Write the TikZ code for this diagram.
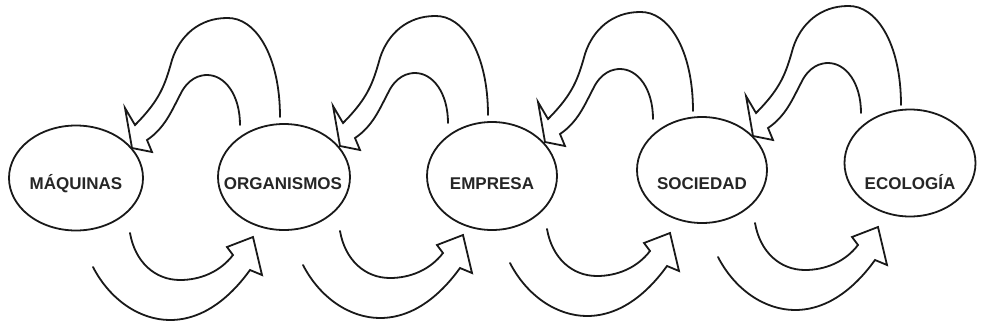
\documentclass[tikz,border=0pt]{standalone}
\usepackage{fontspec}
\setmainfont{Liberation Sans}
\usetikzlibrary{shapes.geometric}
\tikzset{
  ring/.style={draw=black!90, ellipse, line width=1.8pt, inner sep=0pt},
  lbl/.style={font=\fontsize{17}{19}\selectfont\bfseries, anchor=base, inner sep=0pt, text=black!85},
  band/.style={draw=black!90, line width=1.8pt, line join=miter, line cap=round},
  upband/.pic={
    \draw[band] (280,117) .. controls (280,55) and (255,17) .. (227,18)
      .. controls (200,18) and (180,35) .. (172,60)
      .. controls (165,85) and (160,100) .. (135,125)
      -- (125,108) -- (132,148) -- (152,152) -- (147,140)
      .. controls (165,128) and (172,110) .. (180,95)
      .. controls (188,78) and (200,75) .. (207,75)
      .. controls (225,75) and (240,95) .. (240,125);
  },
  lowband/.pic={
    \draw[band] (93,267) .. controls (110,300) and (140,320) .. (170,320)
      .. controls (205,320) and (232,295) .. (250,270)
      -- (262,275) -- (253,237) -- (227,247) -- (233,255)
      .. controls (220,272) and (200,280) .. (180,280)
      .. controls (155,280) and (135,262) .. (130,233);
  }
}
\begin{document}
\begin{tikzpicture}[x=1pt,y=-1pt]
\useasboundingbox[fill=white] (0,0) rectangle (983,333);
% ellipses
\node[ring, minimum width=134pt, minimum height=105pt] (m)  at (76,178)  {};
\node[ring, minimum width=132pt, minimum height=106pt] (o)  at (284,177) {};
\node[ring, minimum width=130pt, minimum height=108pt] (e)  at (492,176) {};
\node[ring, minimum width=130pt, minimum height=106pt] (s)  at (702,170) {};
\node[ring, minimum width=131pt, minimum height=107pt] (ec) at (910,163) {};
% labels
\node[lbl] (tm)  at (76,189.5)  {MÁQUINAS};
\node[lbl] (to)  at (283,189.5) {ORGANISMOS};
\node[lbl] (te)  at (492,189.5) {EMPRESA};
\node[lbl] (ts)  at (702,189.5) {SOCIEDAD};
\node[lbl] (tec) at (910,189.5) {ECOLOGÍA};
% upper (return) arrows
\pic at (0,0)     {upband};
\pic at (208,-2)  {upband};
\pic at (413,-6)  {upband};
\pic at (621,-12) {upband};
% lower (forward) arrows
\pic at (0,0)     {lowband};
\pic at (210,-2)  {lowband};
\pic at (417,-4)  {lowband};
\pic at (625,-10) {lowband};
\end{tikzpicture}
\end{document}
